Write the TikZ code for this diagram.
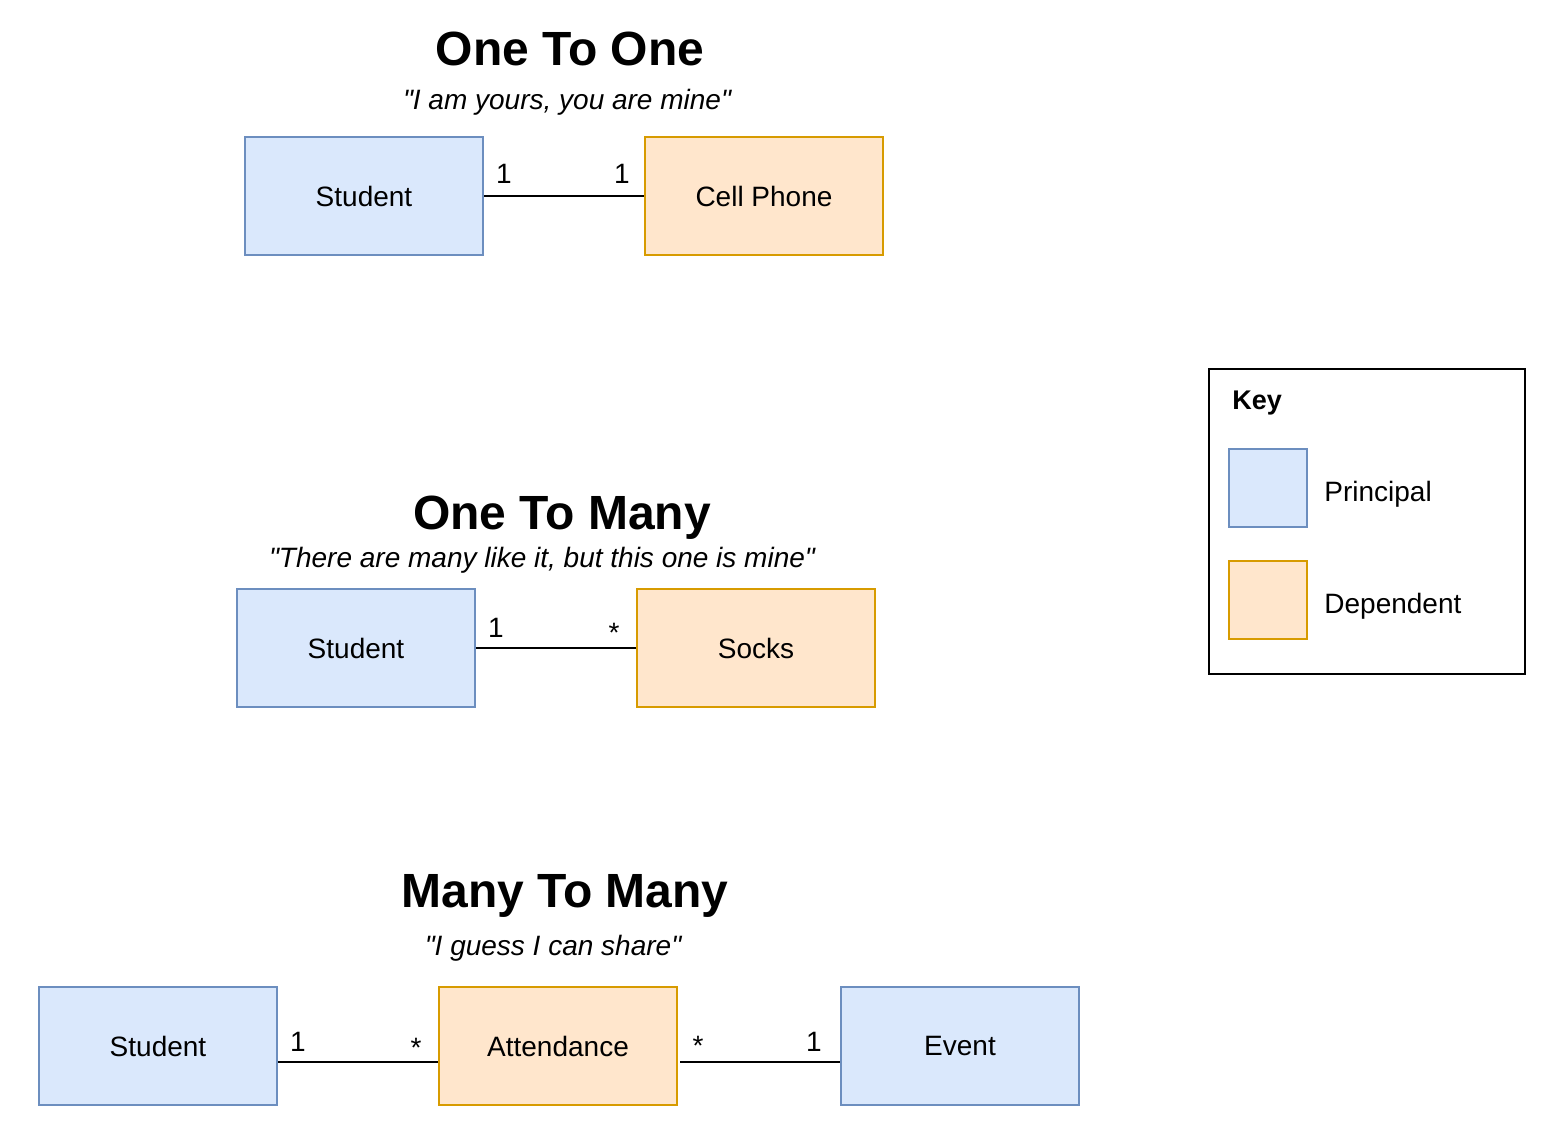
\documentclass[tikz,border=0pt]{standalone}
\usepackage{fontspec}
\setmainfont{Liberation Sans}[Ligatures=TeXOff]
\definecolor{pfill}{HTML}{DAE8FC}
\definecolor{pline}{HTML}{6C8EBF}
\definecolor{dfill}{HTML}{FFE6CC}
\definecolor{dline}{HTML}{D79B00}
\tikzset{
  entity/.style={rectangle, minimum width=119pt, minimum height=59pt, inner sep=0pt, line width=1pt, font=\fontsize{14}{16}\selectfont},
  principal/.style={entity, draw=pline, fill=pfill},
  dependent/.style={entity, draw=dline, fill=dfill},
  swatch/.style={rectangle, minimum width=39pt, minimum height=39pt, inner sep=0pt, line width=1pt},
  title/.style={anchor=base, inner sep=0pt, font=\fontsize{24}{28}\selectfont\bfseries},
  subtitle/.style={anchor=base, inner sep=0pt, font=\fontsize{14}{16}\selectfont\itshape},
  mult/.style={anchor=base, inner sep=0pt, font=\fontsize{14}{16}\selectfont},
  keytext/.style={anchor=base west, inner sep=0pt, font=\fontsize{14}{16}\selectfont},
  link/.style={line width=1pt, draw=black}
}
\begin{document}
\begin{tikzpicture}[x=0.5pt, y=-0.5pt]
\useasboundingbox (0,0) rectangle (1558,1142);

% One To One
\node[title] (t1) at (570,65) {One To One};
\node[subtitle] (s1) at (567,109) {"I am yours, you are mine"};
\node[principal] (stu1) at (364,196) {Student};
\node[dependent] (cell) at (764,196) {Cell Phone};
\draw[link] (stu1.east) -- (cell.west);
\node[mult] (m1a) at (504,183) {1};
\node[mult] (m1b) at (622,183) {1};

% One To Many
\node[title] (t2) at (562,529) {One To Many};
\node[subtitle] (s2) at (542,567) {"There are many like it, but this one is mine"};
\node[principal] (stu2) at (356,648) {Student};
\node[dependent] (socks) at (756,648) {Socks};
\draw[link] (stu2.east) -- (socks.west);
\node[mult] (m2a) at (496,637) {1};
\node[mult] (m2b) at (614,642) {*};

% Many To Many
\node[title] (t3) at (565,907) {Many To Many};
\node[subtitle] (s3) at (553,955) {"I guess I can share"};
\node[principal] (stu3) at (158,1046) {Student};
\node[dependent] (att) at (558,1046) {Attendance};
\node[principal] (evt) at (960,1046) {Event};
\draw[link] ([yshift=-8pt]stu3.east) -- ([yshift=-8pt]att.west);
\draw[link] ([yshift=-8pt,xshift=1pt]att.east) -- ([yshift=-8pt]evt.west);
\node[mult] (m3a) at (298,1051) {1};
\node[mult] (m3b) at (416,1057) {*};
\node[mult] (m3c) at (698,1055) {*};
\node[mult] (m3d) at (814,1051) {1};

% Key
\node[draw=black, line width=1pt, rectangle, minimum width=158pt, minimum height=152.5pt, inner sep=0pt] (key) at (1367,521) {};
\node[keytext, font=\fontsize{13.5}{16}\selectfont\bfseries] (keyt) at (1232,409) {Key};
\node[swatch, draw=pline, fill=pfill] (sp) at (1268,488) {};
\node[keytext] (lp) at (1324,501) {Principal};
\node[swatch, draw=dline, fill=dfill] (sd) at (1268,600) {};
\node[keytext] (ld) at (1324,613) {Dependent};
\end{tikzpicture}
\end{document}
